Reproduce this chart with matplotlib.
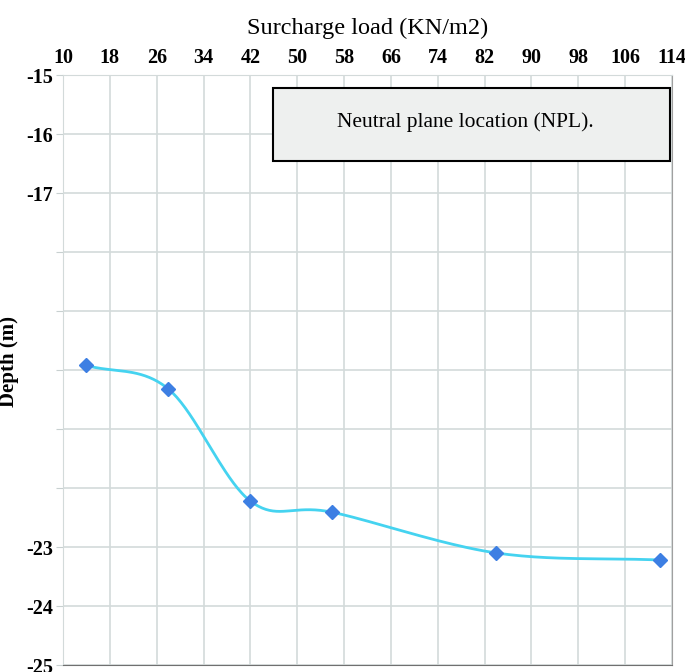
import numpy as np
import matplotlib
matplotlib.use("Agg")
import matplotlib.pyplot as plt
from matplotlib.patches import Rectangle

# data
load = [14, 28, 42, 56, 84, 112]
depth = [-19.92, -20.32, -22.22, -22.41, -23.10, -23.22]

x_ticks = list(range(10, 115, 8))
y_ticks = list(range(-25, -14))
y_shown = [-15, -16, -17, -23, -24, -25]


def smooth(x, y, n=40):
    # catmull-rom curve through the points, like a spreadsheet "smoothed line"
    x = np.asarray(x, float)
    y = np.asarray(y, float)
    px = np.concatenate([[2 * x[0] - x[1]], x, [2 * x[-1] - x[-2]]])
    py = np.concatenate([[2 * y[0] - y[1]], y, [2 * y[-1] - y[-2]]])
    xs, ys = [], []
    t = np.linspace(0, 1, n)
    for i in range(1, len(px) - 2):
        for p, out in ((px, xs), (py, ys)):
            p0, p1, p2, p3 = p[i - 1], p[i], p[i + 1], p[i + 2]
            out.extend(0.5 * ((2 * p1) + (-p0 + p2) * t
                              + (2 * p0 - 5 * p1 + 4 * p2 - p3) * t ** 2
                              + (-p0 + 3 * p1 - 3 * p2 + p3) * t ** 3))
    return xs, ys


plt.rcParams['font.family'] = ['Liberation Serif', 'DejaVu Serif']

fig = plt.figure(figsize=(6.85, 6.72), dpi=100)
ax = fig.add_axes([0.092, 0.0104, 0.889, 0.8776])

sx, sy = smooth(load, depth)
ax.plot(sx, sy, color="#45d3f0", lw=2, zorder=3)
ax.plot(load, depth, linestyle="none", marker="D", color="#3d7fe3",
        markersize=7.5, zorder=4)

ax.set_xlim(10, 114)
ax.set_ylim(-25, -15)
ax.xaxis.tick_top()
ax.xaxis.set_label_position("top")
ax.set_xticks(x_ticks)
ax.set_xticklabels([str(v) for v in x_ticks], fontsize=14.5, fontweight="bold")
ax.set_yticks(y_ticks)
ax.set_yticklabels([str(v) if v in y_shown else "" for v in y_ticks],
                   fontsize=14.5, fontweight="bold")
ax.tick_params(axis="x", length=0, pad=5)
ax.tick_params(axis="y", length=5, color="#c8d0d0", pad=2)

ax.grid(True, color="#d3dada", lw=1.2)
ax.set_axisbelow(True)
for side in ["left", "top"]:
    ax.spines[side].set_color("#d3dada")
ax.spines["bottom"].set_color("#707070")
ax.spines["right"].set_color("#a0a0a0")

ax.set_xlabel("Surcharge load (KN/m2)", fontsize=17.5, labelpad=10)
ax.set_ylabel("Depth (m)", fontsize=15, fontweight="bold")
ax.yaxis.set_label_coords(-0.072, 0.515)

# caption box
fig.add_artist(Rectangle((0.399, 0.760), 0.579, 0.109, transform=fig.transFigure,
                         facecolor="#eef0ef", edgecolor="black", lw=1.5))
fig.text(0.679, 0.818, "Neutral plane location (NPL).", fontsize=15.5,
         ha="center", va="center")

fig.savefig("out.png", dpi=100)
